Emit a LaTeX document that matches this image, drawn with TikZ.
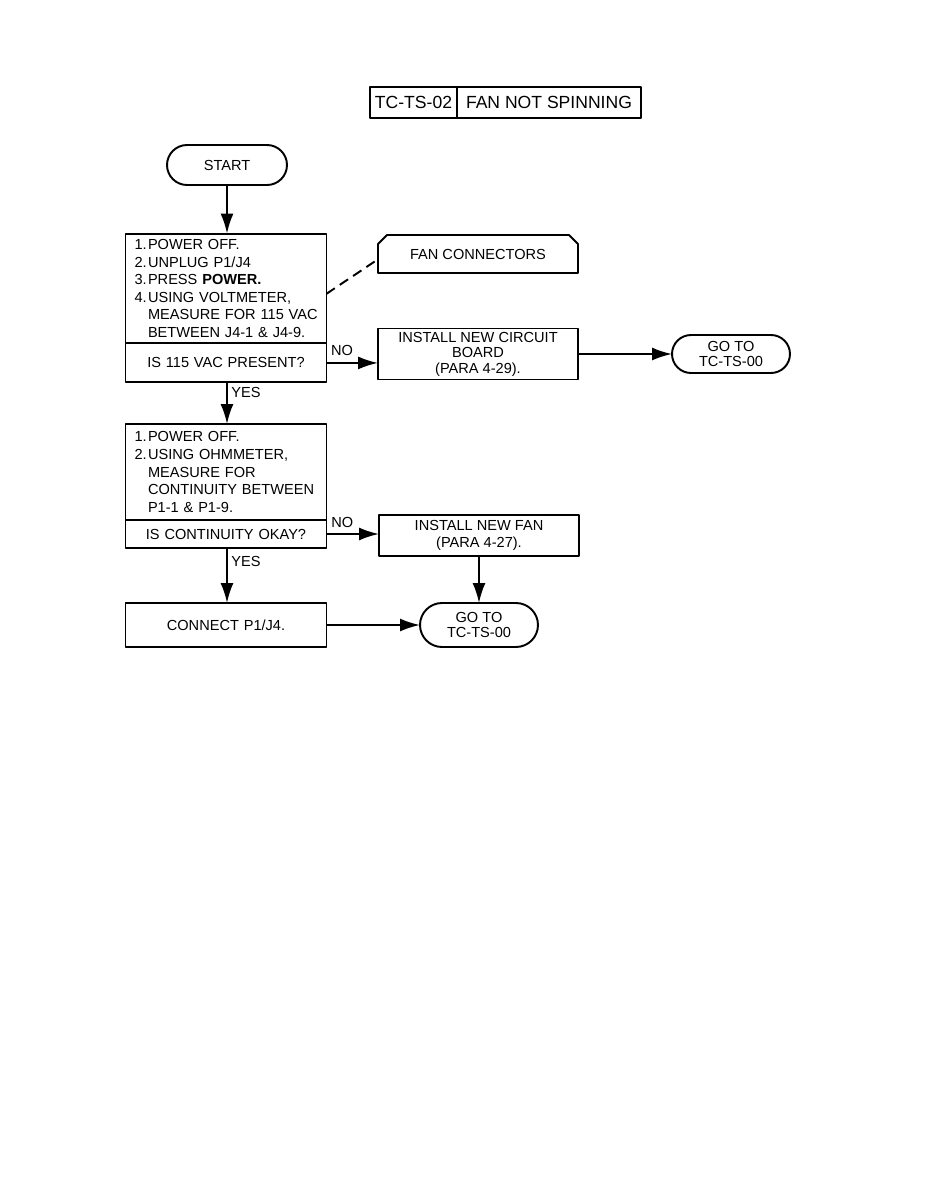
\documentclass[tikz,border=0pt]{standalone}
\usepackage{fontspec}
\setmainfont{Liberation Sans}
\usetikzlibrary{arrows.meta}

\newcommand{\stepnum}[1]{\makebox[0.27cm][l]{#1}}
\newcommand{\stepcont}{\hspace*{0.27cm}}

\begin{document}
\begin{tikzpicture}[x=0.02cm,y=-0.02cm,>={Latex[length=4mm,width=2.6mm]},line join=bevel,line width=1.1pt,
  every node/.style={font=\fontsize{8.3}{10}\selectfont},
  stepbox/.style={draw,rectangle,outer sep=0pt,inner xsep=0.18cm,text width=3.66cm,align=left},
  askbox/.style={draw,rectangle,outer sep=0pt,inner xsep=0.18cm,text width=3.66cm,align=center},
  actbox/.style={draw,rectangle,outer sep=0pt,inner sep=0pt,minimum width=4cm,align=center},
  termbox/.style={draw,rectangle,outer sep=0pt,inner sep=0pt,align=center},
  titlebox/.style={draw,rectangle,outer sep=0pt,inner sep=0pt,minimum height=0.62cm,font=\fontsize{10}{12}\selectfont}]
\useasboundingbox (0,0) rectangle (924,1194);

% Node: title
\node[titlebox,minimum width=1.74cm] (tleft) at (413.5,102.5) {TC-TS-02};
\node[titlebox,minimum width=3.68cm,anchor=west] (tright) at (tleft.east) {FAN NOT SPINNING};

% Node: start
\node[termbox,minimum width=2.4cm,minimum height=0.8cm,rounded corners=0.4cm] (start) at (227,165) {START};

% Node: step1
\node[stepbox,minimum height=2.18cm] (step1) at (226,288.5) {%
\stepnum{1.}POWER OFF.\\
\stepnum{2.}UNPLUG P1/J4\\
\stepnum{3.}PRESS \textbf{POWER.}\\
\stepnum{4.}USING VOLTMETER,\\
\stepcont\mbox{MEASURE FOR 115 VAC}\\
\stepcont BETWEEN J4-1 \& J4-9.};
\node[askbox,minimum height=0.78cm,anchor=north] (ask1) at (step1.south) {IS 115 VAC PRESENT?};

% Node: fanconn
\node[rectangle,outer sep=0pt,inner sep=0pt,minimum width=4cm,minimum height=0.76cm] (fanconn) at (478,254) {FAN CONNECTORS};
\draw (fanconn.south west) -- ([yshift=-0.18cm]fanconn.north west) -- ([xshift=0.18cm]fanconn.north west)
  -- ([xshift=-0.18cm]fanconn.north east) -- ([yshift=-0.18cm]fanconn.north east) -- (fanconn.south east) -- cycle;

% Node: board
\node[actbox,minimum height=1.02cm,font=\fontsize{8.3}{8.8}\selectfont] (board) at (478,354) {INSTALL NEW CIRCUIT\\BOARD\\(PARA 4-29).};

% Node: goto1
\node[termbox,minimum width=2.36cm,minimum height=0.76cm,rounded corners=0.38cm,font=\fontsize{8.3}{9}\selectfont] (goto1) at (731,354) {GO TO\\TC-TS-00};

% Node: step2
\node[stepbox,minimum height=1.92cm] (step2) at (226,472) {%
\stepnum{1.}POWER OFF.\\
\stepnum{2.}USING OHMMETER,\\
\stepcont MEASURE FOR\\
\stepcont CONTINUITY BETWEEN\\
\stepcont P1-1 \& P1-9.};
\node[askbox,minimum height=0.56cm,anchor=north] (ask2) at (step2.south) {IS CONTINUITY OKAY?};

% Node: newfan
\node[actbox,minimum height=0.82cm,font=\fontsize{8.3}{9.6}\selectfont] (newfan) at (479,535.5) {INSTALL NEW FAN\\(PARA 4-27).};

% Node: connect
\node[stepbox,align=center,minimum height=0.88cm] (connect) at (226,625) {CONNECT P1/J4.};

% Node: goto2
\node[termbox,minimum width=2.36cm,minimum height=0.88cm,rounded corners=0.44cm,font=\fontsize{8.3}{9}\selectfont] (goto2) at (479,625) {GO TO\\TC-TS-00};

% Edge: start -> step1
\draw[->] (start.south) -- (start.south |- step1.north);

% Edge: step1 -- fanconn
\draw[dash pattern=on 0.2cm off 0.12cm] ([yshift=-3pt]step1.east) -- ([yshift=-3pt]fanconn.west);

% Edge: ask1 -> board
\draw[->] (ask1.east) -- (ask1.east -| board.west) node[above,pos=0.3] {NO};

% Edge: board -> goto1
\draw[->] (board.east) -- (board.east -| goto1.west);

% Edge: ask1 -> step2
\draw[->] (ask1.south -| start.south) -- (step2.north -| start.south) node[right,pos=0.25,inner xsep=2pt] {YES};

% Edge: ask2 -> newfan
\draw[->] (ask2.east) -- (ask2.east -| newfan.west) node[above,pos=0.3] {NO};

% Edge: newfan -> goto2
\draw[->] (newfan.south) -- (goto2.north);

% Edge: ask2 -> connect
\draw[->] (ask2.south -| start.south) -- (connect.north -| start.south) node[right,pos=0.25,inner xsep=2pt] {YES};

% Edge: connect -> goto2
\draw[->] (connect.east) -- (goto2.west);

\end{tikzpicture}
\end{document}
